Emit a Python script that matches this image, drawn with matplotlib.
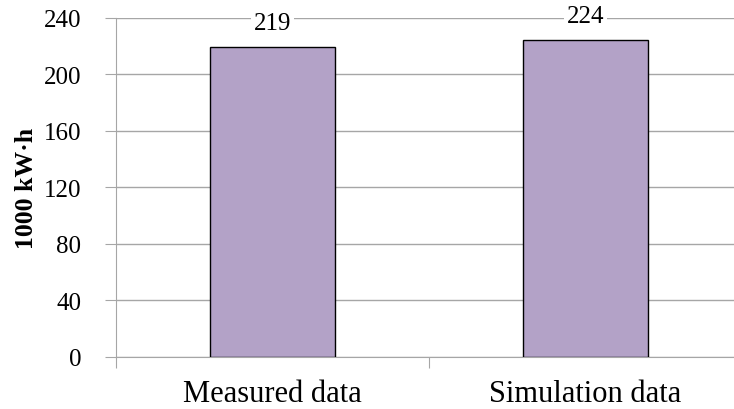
import matplotlib.pyplot as plt

categories = ["Measured data", "Simulation data"]
values = [219, 224]
y_ticks = [0, 40, 80, 120, 160, 200, 240]

plt.rcParams["font.family"] = ["Liberation Serif", "DejaVu Serif"]

fig = plt.figure(figsize=(7.34, 4.10), dpi=100)
ax = fig.add_axes([116 / 734, 1 - 358 / 410, 626 / 734, 339.5 / 410])

grid_color = "#a6a6a6"
x = list(range(len(categories)))
bars = ax.bar(x, values, width=0.4, color="#b3a2c7", edgecolor="black",
              linewidth=1.0, zorder=3)

for bar, val in zip(bars, values):
    ax.text(bar.get_x() + bar.get_width() / 2, val + 17, str(val),
            ha="center", va="center", fontsize=18, zorder=4,
            bbox=dict(facecolor="white", edgecolor="none", pad=2))

ax.set_xlim(-0.5, 1.5)
ax.set_ylim(0, 240)
ax.set_yticks(y_ticks)
ax.yaxis.grid(True, color=grid_color, linewidth=1.0, zorder=0)

ax.set_xticks([-0.5, 0.5, 1.5])
ax.set_xticklabels([])
ax.set_xticks(x, minor=True)
ax.set_xticklabels(categories, minor=True, fontsize=22)
ax.tick_params(axis="x", which="minor", length=0, pad=16)
ax.tick_params(axis="x", which="major", length=8, color=grid_color)
ax.tick_params(axis="y", length=8, color=grid_color, labelsize=18, pad=17)

for side in ["top", "right"]:
    ax.spines[side].set_visible(False)
ax.spines["left"].set_color(grid_color)
ax.spines["bottom"].set_color(grid_color)

ax.set_ylabel("1000 kW·h", fontsize=18.5, fontweight="bold", labelpad=4)

fig.savefig("out.png", dpi=100)
